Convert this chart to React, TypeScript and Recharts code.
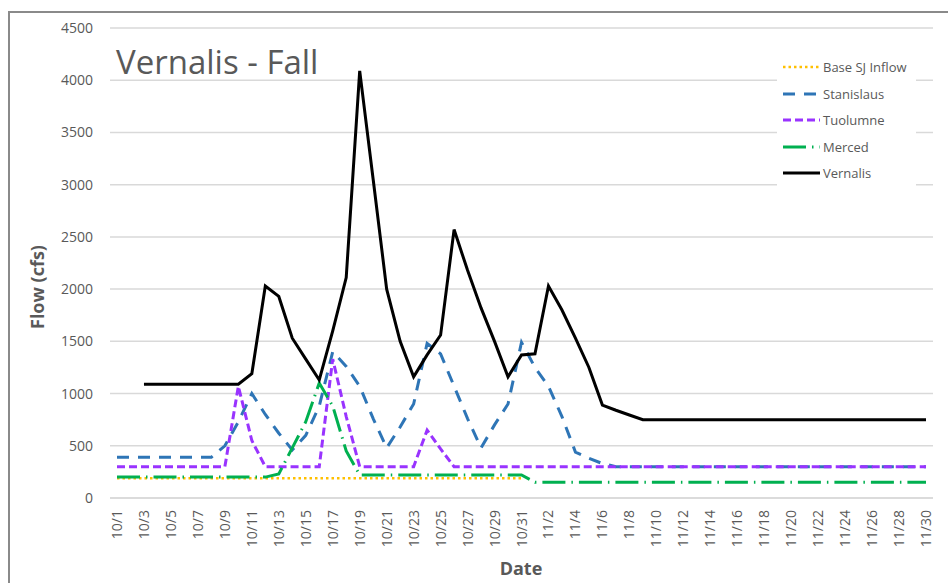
import React from 'react';
import { LineChart, Line, XAxis, YAxis, CartesianGrid } from 'recharts';

// one entry per day, 10/1 .. 11/30
const dates = [
  '10/1', '10/2', '10/3', '10/4', '10/5', '10/6', '10/7', '10/8', '10/9', '10/10',
  '10/11', '10/12', '10/13', '10/14', '10/15', '10/16', '10/17', '10/18', '10/19', '10/20',
  '10/21', '10/22', '10/23', '10/24', '10/25', '10/26', '10/27', '10/28', '10/29', '10/30',
  '10/31', '11/1', '11/2', '11/3', '11/4', '11/5', '11/6', '11/7', '11/8', '11/9',
  '11/10', '11/11', '11/12', '11/13', '11/14', '11/15', '11/16', '11/17', '11/18', '11/19',
  '11/20', '11/21', '11/22', '11/23', '11/24', '11/25', '11/26', '11/27', '11/28', '11/29',
  '11/30',
];

const baseSJ = [
  190, 190, 190, 190, 190, 190, 190, 190, 190, 190,
  190, 190, 190, 190, 190, 190, 190, 190, 190, 190,
  190, 190, 190, 190, 190, 190, 190, 190, 190, 190,
  190, null, null, null, null, null, null, null, null, null,
  null, null, null, null, null, null, null, null, null, null,
  null, null, null, null, null, null, null, null, null, null,
  null,
];

const stanislaus = [
  390, 390, 390, 390, 390, 390, 390, 390, 500, 730,
  1000, 800, 620, 460, 600, 880, 1400, 1260, 1070, 760,
  480, 680, 900, 1480, 1380, 1070, 760, 480, 700, 900,
  1490, 1250, 1070, 780, 440, 380, 330, 300, 300, 300,
  300, 300, 300, 300, 300, 300, 300, 300, 300, 300,
  300, 300, 300, 300, 300, 300, 300, 300, 300, 300,
  300,
];

const tuolumne = [
  300, 300, 300, 300, 300, 300, 300, 300, 300, 1070,
  550, 300, 300, 300, 300, 300, 1330, 780, 300, 300,
  300, 300, 300, 650, 470, 300, 300, 300, 300, 300,
  300, 300, 300, 300, 300, 300, 300, 300, 300, 300,
  300, 300, 300, 300, 300, 300, 300, 300, 300, 300,
  300, 300, 300, 300, 300, 300, 300, 300, 300, 300,
  300,
];

const merced = [
  200, 200, 200, 200, 200, 200, 200, 200, 200, 200,
  200, 200, 230, 480, 730, 1100, 880, 450, 220, 220,
  220, 220, 220, 220, 220, 220, 220, 220, 220, 220,
  220, 150, 150, 150, 150, 150, 150, 150, 150, 150,
  150, 150, 150, 150, 150, 150, 150, 150, 150, 150,
  150, 150, 150, 150, 150, 150, 150, 150, 150, 150,
  150,
];

const vernalis = [
  null, null, 1090, 1090, 1090, 1090, 1090, 1090, 1090, 1090,
  1190, 2030, 1930, 1530, 1330, 1130, 1600, 2110, 4090, 3050,
  2000, 1500, 1160, 1370, 1560, 2570, 2180, 1820, 1500, 1160,
  1370, 1380, 2030, 1800, 1530, 1250, 890, 840, 795, 750,
  750, 750, 750, 750, 750, 750, 750, 750, 750, 750,
  750, 750, 750, 750, 750, 750, 750, 750, 750, 750,
  750,
];

const yTicks = [0, 500, 1000, 1500, 2000, 2500, 3000, 3500, 4000, 4500];

const series = [
  { key: 'base', name: 'Base SJ Inflow', color: '#FFC000', dash: '2.5 3', width: 2.5 },
  { key: 'stan', name: 'Stanislaus', color: '#2E75B6', dash: '12 9', width: 3 },
  { key: 'tuol', name: 'Tuolumne', color: '#9933FF', dash: '8 4', width: 3 },
  { key: 'merc', name: 'Merced', color: '#00B050', dash: '23 6 1.5 6', width: 3 },
  { key: 'vern', name: 'Vernalis', color: '#000000', dash: undefined, width: 3 },
];

const data = dates.map((d, i) => ({
  date: d,
  base: baseSJ[i],
  stan: stanislaus[i],
  tuol: tuolumne[i],
  merc: merced[i],
  vern: vernalis[i],
}));

const FONT = '"Open Sans", sans-serif';
const GREY = '#595959';

// rotated date label, centred on its tick
const DateTick = ({ x, y, payload }: any) => (
  <text
    x={x}
    y={y}
    transform={`rotate(-90, ${x}, ${y})`}
    textAnchor="end"
    dy="0.36em"
    fill={GREY}
    fontSize={14}
    fontFamily={FONT}
  >
    {payload.value}
  </text>
);

// legend drawn as an overlay so it does not shrink the plot area
const ChartLegend = () => (
  <div style={{ position: 'absolute', left: 777, top: 54, width: 139, paddingBottom: 4, background: '#fff' }}>
    {series.map((s) => (
      <div key={s.key} style={{ display: 'flex', alignItems: 'center', height: 26.5 }}>
        <svg width={44} height={10} style={{ display: 'block' }}>
          <line x1={6} y1={5} x2={43} y2={5} stroke={s.color} strokeWidth={s.width} strokeDasharray={s.dash} />
        </svg>
        <span style={{ fontFamily: FONT, fontSize: 13, color: GREY, marginLeft: 2, whiteSpace: 'nowrap' }}>{s.name}</span>
      </div>
    ))}
  </div>
);

export default function App() {
  return (
    <div style={{ position: 'absolute', left: 0, top: 0, width: 948, height: 583, background: '#fff', overflow: 'hidden' }}>
      <div style={{ position: 'absolute', left: 8, top: 11, width: 1000, height: 700, borderTop: '2px solid #8a8a8a', borderLeft: '2px solid #8a8a8a' }} />
      <LineChart width={948} height={583} data={data} margin={{ top: 28, right: 15, left: 0, bottom: 0 }} style={{ fontFamily: FONT }}>
        <CartesianGrid vertical={false} stroke="#D9D9D9" strokeWidth={1.5} />
        <XAxis
          dataKey="date"
          interval={1}
          height={85}
          padding={{ left: 7, right: 7 }}
          tickLine={false}
          tickMargin={6}
          axisLine={{ stroke: '#D9D9D9', strokeWidth: 1.5 }}
          tick={<DateTick />}
        />
        <YAxis
          width={110}
          domain={[0, 4500]}
          ticks={yTicks}
          tickLine={false}
          axisLine={false}
          tickMargin={11}
          tick={{ fontSize: 14, fill: GREY, fontFamily: FONT }}
        />
        {series.map((s) => (
          <Line
            key={s.key}
            dataKey={s.key}
            name={s.name}
            stroke={s.color}
            strokeWidth={s.width}
            strokeDasharray={s.dash}
            dot={false}
            activeDot={false}
            type="linear"
            isAnimationActive={false}
          />
        ))}
      </LineChart>
      <ChartLegend />
      <div style={{ position: 'absolute', left: 116, top: 45, fontFamily: FONT, fontSize: 33, lineHeight: 1, color: GREY, whiteSpace: 'nowrap' }}>
        Vernalis - Fall
      </div>
      <div style={{ position: 'absolute', left: 471, top: 559, width: 100, textAlign: 'center', fontFamily: FONT, fontSize: 18, lineHeight: 1, fontWeight: 700, color: GREY }}>
        Date
      </div>
      <div style={{ position: 'absolute', left: -23, top: 275, width: 120, height: 24, lineHeight: '24px', textAlign: 'center', fontFamily: FONT, fontSize: 18, fontWeight: 700, color: GREY, transform: 'rotate(-90deg)' }}>
        Flow (cfs)
      </div>
    </div>
  );
}
